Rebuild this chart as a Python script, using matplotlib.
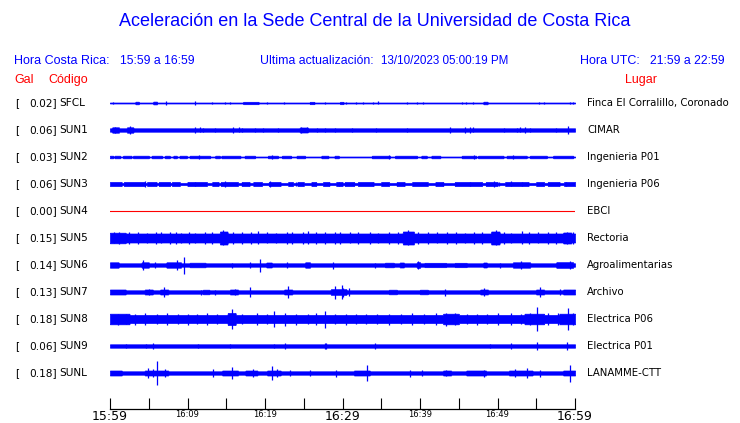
import numpy as np
import matplotlib.pyplot as plt
from matplotlib.transforms import blended_transform_factory

# station info
codes = ['SFCL', 'SUN1', 'SUN2', 'SUN3', 'SUN4', 'SUN5', 'SUN6', 'SUN7', 'SUN8', 'SUN9', 'SUNL']
gal = [0.02, 0.06, 0.03, 0.06, 0.00, 0.15, 0.14, 0.13, 0.18, 0.06, 0.18]
places = ['Finca El Corralillo, Coronado', 'CIMAR', 'Ingenieria P01', 'Ingenieria P06', 'EBCI',
          'Rectoria', 'Agroalimentarias', 'Archivo', 'Electrica P06', 'Electrica P01', 'LANAMME-CTT']

# trace envelopes (minutes after 15:59, half-amplitude in pixels)
base = [0.5, 1.7, 0.5, 1.0, 0.0, 4.5, 1.7, 1.7, 4.0, 1.7, 1.7]

bursts = {
    'SFCL': [(3.3, 3.7, 1.3), (5.6, 6.1, 1.4), (17.2, 19.2, 1.2), (25.8, 26.4, 1.2), (29.7, 30.1, 1.2),
             (48.2, 48.7, 1.3)],
    'SUN1': [(0.3, 1.2, 2.7), (2.2, 3.0, 2.7), (24.5, 25.5, 2.5)],
    'SUN2': [(0.0, 0.4, 1.3), (0.6, 1.3, 1.3), (1.7, 2.8, 1.3), (3.0, 5.0, 1.3), (5.4, 6.7, 1.3),
             (7.1, 7.7, 1.3), (8.2, 8.6, 1.3), (9.0, 9.9, 1.3), (10.3, 12.9, 1.3), (13.6, 14.2, 1.3),
             (14.4, 16.8, 1.3), (17.4, 18.7, 1.3), (20.4, 21.7, 1.3), (22.2, 23.4, 1.3), (24.1, 25.2, 1.3),
             (27.3, 28.2, 1.3), (29.0, 29.5, 1.3), (33.8, 36.1, 1.3), (36.8, 39.6, 1.3), (40.2, 40.9, 1.3),
             (41.5, 42.6, 1.3), (45.4, 47.3, 1.3), (47.5, 50.8, 1.3), (51.2, 53.8, 1.3), (54.2, 56.4, 1.3),
             (57.2, 59.8, 1.3)],
    'SUN3': [(0.0, 1.5, 2.0), (1.8, 4.5, 2.0), (4.8, 6.0, 2.0), (6.3, 7.8, 2.0), (8.0, 9.0, 2.0),
             (10.0, 12.5, 2.0), (13.2, 14.0, 2.0), (14.3, 16.5, 2.0), (17.0, 18.0, 2.0), (18.5, 19.6, 2.0),
             (20.5, 22.0, 2.0), (23.0, 23.6, 2.0), (24.2, 25.0, 2.0), (26.0, 26.6, 2.0), (27.5, 28.3, 2.0),
             (29.2, 30.0, 2.0), (30.3, 31.5, 2.0), (32.0, 34.0, 2.0), (35.0, 36.0, 2.0), (37.0, 38.0, 2.0),
             (39.0, 41.0, 2.0), (42.0, 43.0, 2.0), (44.5, 48.0, 2.0), (48.5, 50.0, 2.0), (51.0, 54.0, 2.0),
             (55.0, 56.0, 2.0), (56.5, 58.0, 2.0), (58.6, 60.0, 2.0)],
    'SUN4': [],
    'SUN5': [(0.0, 2.0, 5.3), (14.2, 15.2, 6.5), (37.8, 39.2, 6.5), (49.2, 50.3, 6.5), (58.5, 59.5, 5.5)],
    'SUN6': [(0.0, 1.1, 2.7), (4.1, 5.0, 2.7), (7.3, 9.2, 2.7), (10.3, 12.3, 2.3), (20.2, 20.9, 2.5),
             (25.2, 25.8, 2.7), (35.5, 36.6, 2.3), (37.4, 37.9, 2.5), (39.6, 40.0, 2.8), (40.6, 43.4, 2.2),
             (44.5, 46.0, 2.2), (48.2, 48.6, 2.5), (52.0, 54.2, 2.7), (57.6, 59.8, 2.8)],
    'SUN7': [(0.0, 2.0, 2.5), (4.5, 5.5, 2.5), (6.5, 7.5, 2.5), (12.0, 12.8, 2.3), (15.5, 16.5, 2.5),
             (22.5, 23.5, 2.5), (28.5, 30.5, 2.8), (36.0, 37.0, 2.3), (40.0, 41.0, 2.3), (47.8, 48.8, 2.5),
             (55.0, 56.0, 2.5), (58.5, 60.0, 2.5)],
    'SUN8': [(0.0, 2.5, 5.3), (15.2, 16.2, 6.0), (43.0, 45.0, 5.3), (53.5, 56.0, 5.3), (58.0, 60.0, 5.3)],
    'SUN9': [],
    'SUNL': [(0.0, 1.5, 2.5), (4.5, 7.5, 2.5), (14.5, 16.5, 2.5), (17.5, 19.0, 2.5), (20.3, 22.0, 2.5),
             (31.5, 33.5, 2.5), (43.0, 44.0, 2.5), (46.0, 48.5, 2.5), (51.5, 54.5, 2.5), (58.5, 60.0, 2.5)],
}

spikes = {
    'SFCL': [(0.4, 1.2), (7.2, 2.0), (11.0, 1.6), (13.1, 1.0), (14.8, 1.2), (15.5, 1.0), (20.3, 1.0),
             (22.5, 1.0), (27.7, 1.0), (30.5, 1.0), (31.8, 1.0), (32.7, 1.0), (33.9, 1.0), (34.6, 1.5),
             (38.3, 1.0), (39.6, 1.3), (40.4, 1.0), (45.4, 1.2), (45.9, 1.2), (46.8, 1.0), (55.4, 1.2),
             (56.0, 1.0), (59.3, 1.2), (59.7, 1.3)],
    'SUN1': [(0.65, 2.7), (2.6, 4.0), (11.0, 3.3), (11.6, 2.5), (12.0, 2.3), (13.5, 2.2), (15.9, 3.0),
             (16.6, 2.5), (17.0, 2.3), (18.7, 2.2), (19.8, 2.0), (21.7, 2.0), (24.7, 2.7), (25.4, 2.5),
             (26.7, 2.2), (27.7, 2.0), (29.0, 2.0), (31.2, 2.0), (34.3, 2.2), (38.3, 2.3), (43.9, 3.0),
             (45.8, 3.3), (46.5, 2.7), (46.8, 2.5), (50.8, 2.0), (52.5, 2.2), (52.9, 2.5), (53.5, 2.7),
             (54.2, 2.3), (57.6, 2.0), (59.1, 4.0)],
    'SUN2': [(11.5, 2.3), (20.9, 2.0), (47.0, 1.7), (36.0, 1.6), (52.0, 1.6)],
    'SUN3': [(4.5, 2.8), (11.0, 2.3), (14.8, 2.6), (20.6, 2.8), (24.0, 2.2), (29.5, 2.3), (46.4, 2.4),
             (49.5, 2.6), (50.2, 2.2), (51.8, 2.5), (53.2, 2.2), (58.8, 2.2)],
    'SUN4': [],
    'SUN5': [(0.5, 5.5), (1.2, 6.0), (2.5, 5.6), (3.6, 6.0), (4.8, 5.4), (5.9, 5.8), (6.6, 5.5), (7.7, 6.2),
             (8.5, 5.8), (9.1, 5.4), (10.2, 5.7), (11.0, 5.4), (12.3, 5.6), (13.2, 5.9), (14.6, 7.5),
             (15.9, 5.8), (17.0, 6.0), (18.2, 5.6), (19.1, 6.5), (20.3, 5.5), (21.4, 5.4), (22.8, 5.8),
             (23.5, 5.6), (24.9, 6.2), (25.6, 6.5), (26.6, 5.7), (27.8, 6.0), (29.0, 6.2), (29.7, 5.8),
             (31.0, 5.5), (32.0, 5.8), (33.5, 5.6), (34.6, 5.4), (36.0, 5.9), (37.2, 5.7), (38.4, 7.5),
             (39.8, 5.6), (41.0, 5.8), (42.2, 5.5), (43.5, 6.0), (44.6, 5.7), (45.8, 5.4), (47.0, 5.8),
             (48.0, 5.6), (49.8, 7.5), (50.9, 5.9), (51.8, 5.4), (53.2, 6.5), (54.0, 5.7), (55.2, 5.5),
             (56.5, 6.0), (57.6, 5.6), (59.0, 6.2), (59.7, 5.8)],
    'SUN6': [(4.3, 5.0), (5.8, 3.0), (8.6, 4.5), (9.5, 8.5), (15.7, 2.5), (18.1, 3.0), (19.4, 6.5),
             (22.8, 3.0), (28.8, 3.5), (34.2, 2.5), (39.8, 4.0), (50.3, 2.5), (53.0, 3.8), (59.3, 4.0)],
    'SUN7': [(5.0, 3.0), (7.0, 5.3), (11.8, 2.5), (13.5, 2.5), (16.1, 2.7), (18.0, 5.0), (23.0, 6.0),
             (29.0, 6.5), (30.0, 4.5), (29.9, 7.0), (30.9, 4.0), (43.2, 3.5), (48.2, 4.0), (55.5, 5.0),
             (58.1, 3.0)],
    'SUN8': [(1.0, 5.5), (2.0, 5.3), (3.2, 5.5), (4.5, 5.8), (6.0, 5.3), (7.4, 5.6), (8.8, 5.3),
             (10.0, 5.5), (11.2, 5.2), (12.5, 5.6), (13.8, 5.3), (15.7, 10.0), (17.0, 5.3), (19.0, 6.0),
             (20.2, 5.3), (21.2, 8.0), (22.6, 6.5), (24.0, 5.5), (25.5, 5.3), (26.6, 5.7), (27.7, 8.5),
             (29.0, 5.3), (30.5, 5.5), (31.8, 5.3), (33.0, 5.2), (34.5, 5.3), (36.0, 5.5), (37.5, 5.3),
             (39.0, 5.6), (40.5, 5.3), (42.0, 5.7), (43.4, 6.5), (44.5, 6.0), (46.0, 5.3), (47.3, 5.5),
             (48.6, 5.3), (50.0, 5.6), (51.8, 6.0), (53.0, 5.3), (54.2, 5.7), (55.1, 12.0), (56.5, 5.7),
             (57.8, 5.9), (59.1, 11.0), (59.8, 5.7)],
    'SUN9': [(2.0, 2.3), (4.7, 2.3), (5.6, 2.5), (11.3, 2.3), (15.5, 2.3), (21.1, 2.3), (22.6, 3.3),
             (27.7, 2.7), (27.9, 2.7), (34.2, 2.5), (49.0, 2.2), (51.8, 2.5), (55.1, 4.0), (59.0, 4.0)],
    'SUNL': [(4.9, 5.0), (5.6, 4.0), (6.1, 12.0), (7.1, 4.0), (13.3, 4.0), (15.8, 5.5), (18.5, 4.5),
             (20.9, 7.0), (21.5, 4.0), (23.2, 3.0), (25.8, 3.0), (29.2, 3.5), (33.1, 7.5), (38.7, 3.5),
             (40.2, 3.0), (43.4, 3.0), (48.2, 3.5), (52.3, 4.5), (53.8, 5.0), (55.5, 3.5), (59.3, 8.5)],
}

tick_min = [0, 5, 10, 15, 20, 25, 30, 35, 40, 45, 50, 55, 60]
tick_lab = ['15:59', '', '16:09', '', '16:19', '', '16:29', '', '16:39', '', '16:49', '', '16:59']

W, H = 740, 423
fig = plt.figure(figsize=(W / 100, H / 100), dpi=100)
ax = fig.add_axes([110 / W, 14 / H, 465 / W, 325 / H])
ax.set_xlim(0, 60)
ax.set_ylim(10 + 36 / 27, -19 / 27)

blue = '#0000ff'
red = '#ff0000'
px = 1 / 27  # one pixel in row units
t = np.linspace(0, 60, 1201)

for i, code in enumerate(codes):
    if code == 'SUN4':
        ax.plot([0, 60], [i, i], color=red, lw=0.8)
        continue
    env = np.full_like(t, base[i])
    for t0, t1, a in bursts[code]:
        m = (t >= t0) & (t <= t1)
        env[m] = np.maximum(env[m], a)
    ax.fill_between(t, i - env * px, i + env * px, color=blue, lw=0.5, edgecolor=blue)
    if spikes[code]:
        st = [s[0] for s in spikes[code]]
        sa = np.array([s[1] for s in spikes[code]])
        ax.vlines(st, i - sa * px, i + sa * px, color=blue, lw=0.9)

for s in ['top', 'left', 'right']:
    ax.spines[s].set_visible(False)
ax.spines['bottom'].set_color('black')
ax.spines['bottom'].set_linewidth(0.9)
ax.set_yticks([])
ax.set_xticks(tick_min)
ax.set_xticklabels(tick_lab)
ax.tick_params(axis='x', direction='in', length=8, width=0.8, pad=1, colors='black')
for lbl in ax.get_xticklabels():
    if lbl.get_text() in ('15:59', '16:29', '16:59'):
        lbl.set_fontsize(9)
    else:
        lbl.set_fontsize(6)

# row labels
tr = blended_transform_factory(fig.transFigure, ax.transData)
for i, code in enumerate(codes):
    ax.text(15 / W, i, '[', transform=tr, ha='left', va='center', fontsize=7.6, clip_on=False)
    ax.text(57 / W, i, f'{gal[i]:.2f}]', transform=tr, ha='right', va='center', fontsize=7.6, clip_on=False)
    ax.text(59 / W, i, code, transform=tr, ha='left', va='center', fontsize=7.6, clip_on=False)
    ax.text(587 / W, i, places[i], transform=tr, ha='left', va='center', fontsize=7.3, clip_on=False)

hf = 'Liberation Sans'
fig.text(375 / W, 1 - 22 / H, 'Aceleración en la Sede Central de la Universidad de Costa Rica',
         ha='center', va='center', color=blue, fontsize=13, family=hf)
fig.text(14 / W, 1 - 61 / H, 'Hora Costa Rica:', ha='left', va='center', color=blue, fontsize=9, family=hf)
fig.text(120 / W, 1 - 61 / H, '15:59 a 16:59', ha='left', va='center', color=blue, fontsize=8.8, family=hf)
fig.text(260 / W, 1 - 61 / H, 'Ultima actualización:', ha='left', va='center', color=blue, fontsize=8.8, family=hf)
fig.text(381 / W, 1 - 61 / H, '13/10/2023 05:00:19 PM', ha='left', va='center', color=blue, fontsize=8.4, family=hf)
fig.text(580 / W, 1 - 61 / H, 'Hora UTC:', ha='left', va='center', color=blue, fontsize=9, family=hf)
fig.text(650 / W, 1 - 61 / H, '21:59 a 22:59', ha='left', va='center', color=blue, fontsize=8.8, family=hf)
fig.text(14 / W, 1 - 80 / H, 'Gal', ha='left', va='center', color=red, fontsize=9, family=hf)
fig.text(48 / W, 1 - 80 / H, 'Código', ha='left', va='center', color=red, fontsize=9, family=hf)
fig.text(625 / W, 1 - 80 / H, 'Lugar', ha='left', va='center', color=red, fontsize=9, family=hf)

fig.savefig('out.png', dpi=100)
